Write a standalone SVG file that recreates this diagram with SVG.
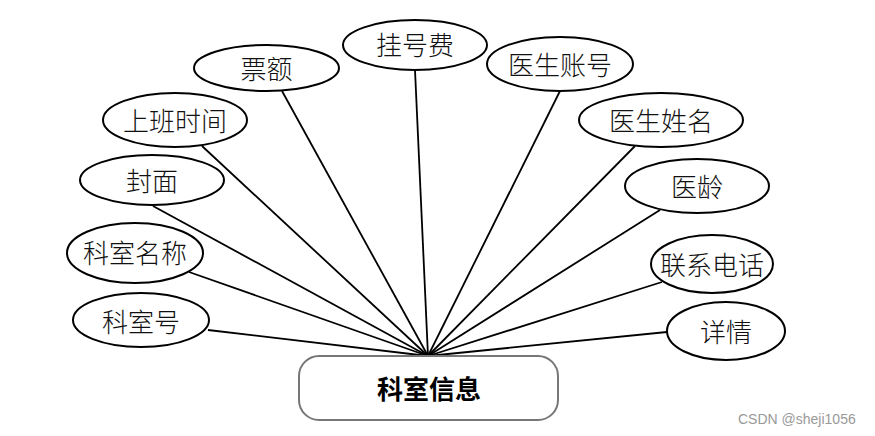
<svg xmlns="http://www.w3.org/2000/svg" width="875" height="436" viewBox="0 0 875 436">
<style>
.attr ellipse{fill:#fff;stroke:#000;stroke-width:2}
.attr text{font-family:"Noto Sans CJK SC","Noto Sans CJK JP",sans-serif;font-size:26px;font-weight:300;fill:#111;text-anchor:middle;dominant-baseline:central}
#connectors line{stroke:#000;stroke-width:1.8}
.ent rect{fill:#fff;stroke:#777;stroke-width:2}
.ent text{font-family:"Noto Sans CJK SC",serif;font-size:26px;font-weight:bold;fill:#000;text-anchor:middle;dominant-baseline:central}
.wm{font-family:"Liberation Sans",Arial,sans-serif;font-size:14px;fill:#999}
</style>
<rect width="875" height="436" fill="#fff"/>
<g id="connectors">
<line x1="282" y1="91" x2="428" y2="356"/>
<line x1="415" y1="70" x2="428" y2="356"/>
<line x1="202" y1="146" x2="428" y2="356"/>
<line x1="560" y1="91" x2="428" y2="356"/>
<line x1="635" y1="146" x2="428" y2="356"/>
<line x1="660" y1="210" x2="428" y2="356"/>
<line x1="153" y1="206" x2="428" y2="356"/>
<line x1="189" y1="272" x2="428" y2="356"/>
<line x1="208" y1="330" x2="428" y2="356"/>
<line x1="662" y1="282" x2="428" y2="356"/>
<line x1="667" y1="332" x2="428" y2="356"/>
</g>
<g id="piaoe" class="attr"><ellipse cx="266.5" cy="68" rx="72.5" ry="23"/><text x="266.5" y="67">票额</text></g>
<g id="guahaofei" class="attr"><ellipse cx="415" cy="45" rx="72" ry="25"/><text x="415" y="43">挂号费</text></g>
<g id="shangbanshijian" class="attr"><ellipse cx="175" cy="120" rx="72" ry="27"/><text x="175" y="119">上班时间</text></g>
<g id="yishengzhanghao" class="attr"><ellipse cx="560" cy="64" rx="73" ry="27"/><text x="560" y="63">医生账号</text></g>
<g id="yishengxingming" class="attr"><ellipse cx="661" cy="120" rx="82" ry="27"/><text x="661" y="119">医生姓名</text></g>
<g id="yiling" class="attr"><ellipse cx="697" cy="186" rx="72" ry="27"/><text x="697" y="185">医龄</text></g>
<g id="fengmian" class="attr"><ellipse cx="152" cy="180" rx="72" ry="25"/><text x="152" y="179">封面</text></g>
<g id="keshimingcheng" class="attr"><ellipse cx="135" cy="253" rx="68" ry="30"/><text x="135" y="251">科室名称</text></g>
<g id="keshihao" class="attr"><ellipse cx="141" cy="320" rx="68" ry="27"/><text x="141" y="320">科室号</text></g>
<g id="lianxidianhua" class="attr"><ellipse cx="712" cy="264" rx="61" ry="29"/><text x="712" y="263">联系电话</text></g>
<g id="xiangqing" class="attr"><ellipse cx="726" cy="331" rx="59" ry="29"/><text x="726" y="330">详情</text></g>
<g id="keshixinxi" class="ent"><rect x="299" y="356" width="259" height="64" rx="20" ry="20"/><text x="429" y="387">科室信息</text></g>
<text class="wm" x="738" y="424">CSDN @sheji1056</text>
</svg>
